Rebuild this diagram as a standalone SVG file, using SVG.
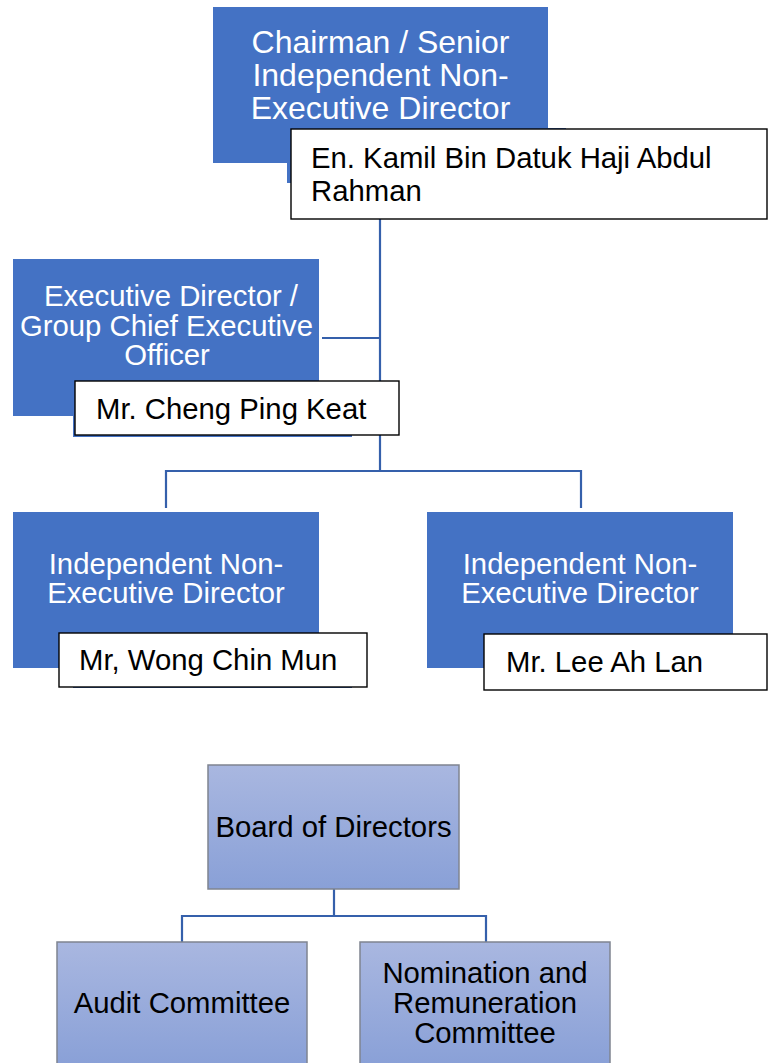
<svg xmlns="http://www.w3.org/2000/svg" width="768" height="1063" viewBox="0 0 768 1063">
<style>
.blue{fill:#4472C4;}
.nb{fill:#FFFFFF;stroke:#000000;stroke-width:1.4;}
.wt{fill:#FFFFFF;font-family:"Liberation Sans",Arial,sans-serif;text-anchor:middle;}
.bt{fill:#000000;font-family:"Liberation Sans",Arial,sans-serif;font-size:29.3px;}
.ct{fill:#000000;font-family:"Liberation Sans",Arial,sans-serif;font-size:29.3px;text-anchor:middle;}
.lb{fill:url(#lg);stroke:#7F8490;stroke-width:1.5;}
.con{fill:none;stroke:#3560AB;stroke-width:2.2;}
</style>
<defs>
<linearGradient id="lg" x1="0" y1="0" x2="0" y2="1">
<stop offset="0" stop-color="#A9B7E0"/>
<stop offset="1" stop-color="#89A0D7"/>
</linearGradient>
</defs>
<g id="connectors">
<path class="con" d="M380 219 V471"/>
<path class="con" d="M322 338 H380"/>
<path class="con" d="M166 508 V471 H581 V508"/>
<path class="con" d="M334 889 V916"/>
<path class="con" d="M182 942 V916 H486 V942"/>
</g>
<g id="chairman">
<rect class="blue" x="213" y="7" width="335" height="156"/>
<text class="wt" font-size="32" x="380.5"><tspan x="380.5" y="52.5">Chairman / Senior</tspan><tspan x="380.5" y="85.5">Independent Non-</tspan><tspan x="380.5" y="118.5">Executive Director</tspan></text>
<rect class="blue" x="287" y="128" width="279" height="55"/>
<rect class="nb" x="291" y="129" width="476" height="90"/>
<text class="bt" x="311"><tspan x="311" y="167.5">En. Kamil Bin Datuk Haji Abdul</tspan><tspan x="311" y="200.5">Rahman</tspan></text>
</g>
<g id="ceo">
<rect class="blue" x="13" y="259" width="306" height="157"/>
<text class="wt" font-size="29.3"><tspan x="171" y="306">Executive Director /</tspan><tspan x="166.5" y="335.5">Group Chief Executive</tspan><tspan x="167" y="364.5">Officer</tspan></text>
<rect class="blue" x="73" y="382" width="279" height="55"/>
<rect class="nb" x="75" y="381" width="324" height="54"/>
<text class="bt" x="96" y="419">Mr. Cheng Ping Keat</text>
</g>
<g id="inned1">
<rect class="blue" x="13" y="512" width="306" height="156"/>
<text class="wt" font-size="29.3"><tspan x="166" y="574">Independent Non-</tspan><tspan x="166" y="603">Executive Director</tspan></text>
<rect class="blue" x="73" y="633" width="279" height="55"/>
<rect class="nb" x="59" y="633" width="308" height="54"/>
<text class="bt" x="79" y="670">Mr, Wong Chin Mun</text>
</g>
<g id="inned2">
<rect class="blue" x="427" y="512" width="306" height="156"/>
<text class="wt" font-size="29.3"><tspan x="580" y="574">Independent Non-</tspan><tspan x="580" y="603">Executive Director</tspan></text>
<rect class="nb" x="484" y="634" width="283" height="56"/>
<text class="bt" x="506" y="672">Mr. Lee Ah Lan</text>
</g>
<g id="board">
<rect class="lb" x="208" y="765" width="251" height="124"/>
<text class="ct" x="333.5" y="837">Board of Directors</text>
</g>
<g id="audit">
<rect class="lb" x="57" y="942" width="250" height="124"/>
<text class="ct" x="182" y="1013">Audit Committee</text>
</g>
<g id="nomination">
<rect class="lb" x="360" y="942" width="250" height="124"/>
<text class="ct"><tspan x="485" y="983">Nomination and</tspan><tspan x="485" y="1013">Remuneration</tspan><tspan x="485" y="1043">Committee</tspan></text>
</g>
</svg>
